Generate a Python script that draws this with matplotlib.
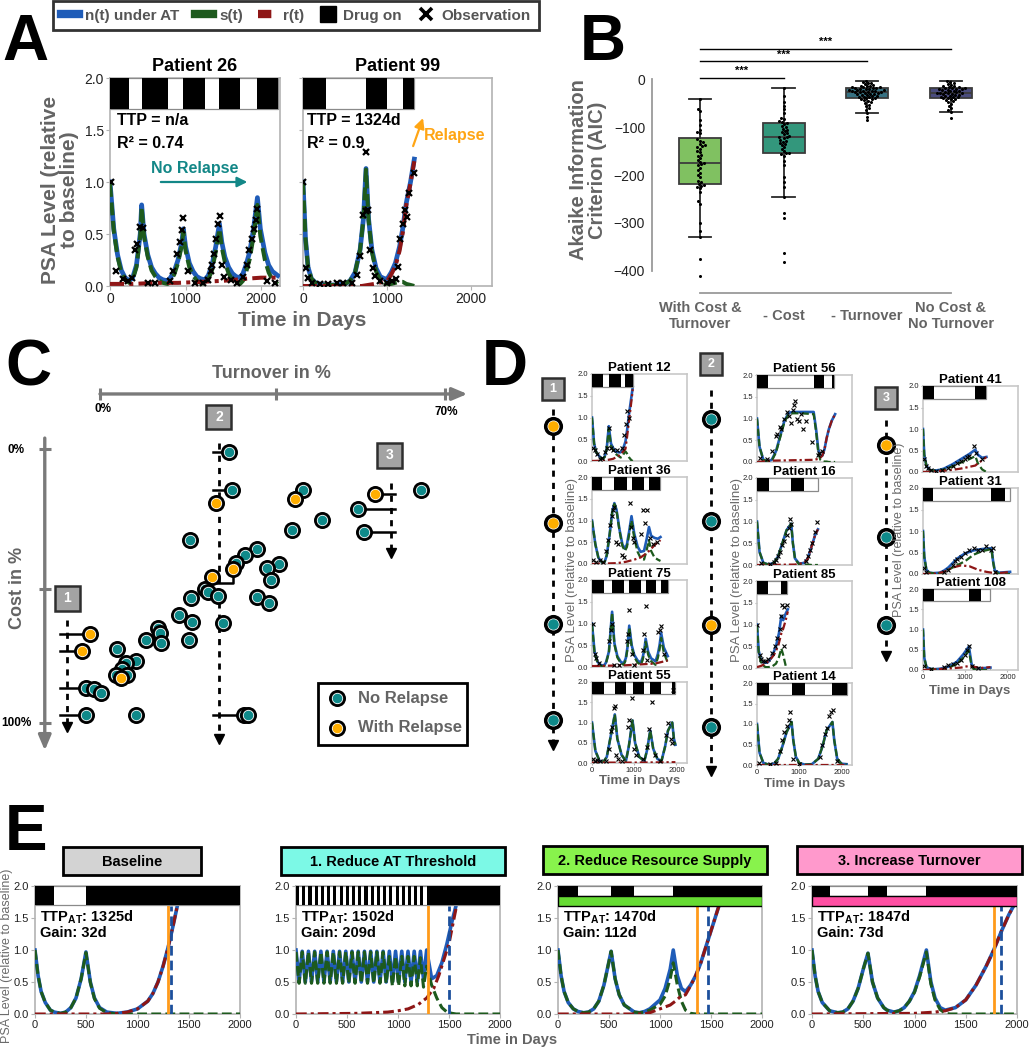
import matplotlib
matplotlib.use("Agg")
import matplotlib.pyplot as plt
from matplotlib.patches import Rectangle
from matplotlib.lines import Line2D
import pandas as pd
import seaborn as sns
import warnings
warnings.filterwarnings("ignore")

# ------------------------------------------------------------------ DATA
# Panel A
A_legend_labels = ['n(t) under AT', 's(t)', 'r(t)', 'Drug on', 'Observation']

P26_t = [0, 50, 100, 150, 200, 256, 300, 350, 400, 419, 450, 500, 550, 600, 650, 700, 763, 800, 850, 900, 950, 971,
         1000, 1050, 1100, 1150, 1200, 1254, 1300, 1350, 1400, 1448, 1480, 1520, 1570, 1620, 1670, 1722, 1760, 1800,
         1850, 1900, 1951, 1990, 2050, 2100, 2150, 2221]
P26_n = [1.0, 0.55, 0.3, 0.15, 0.08, 0.05, 0.08, 0.2, 0.5, 0.78, 0.5, 0.3, 0.18, 0.12, 0.08, 0.06, 0.05, 0.08, 0.14,
         0.25, 0.42, 0.55, 0.38, 0.22, 0.14, 0.09, 0.07, 0.06, 0.1, 0.2, 0.38, 0.6, 0.42, 0.28, 0.18, 0.12, 0.09, 0.08,
         0.12, 0.2, 0.33, 0.55, 0.85, 0.55, 0.32, 0.2, 0.14, 0.1]
P26_s = [0.98, 0.53, 0.28, 0.13, 0.06, 0.03, 0.06, 0.18, 0.48, 0.76, 0.48, 0.28, 0.15, 0.09, 0.05, 0.03, 0.02, 0.05,
         0.11, 0.22, 0.39, 0.52, 0.34, 0.18, 0.10, 0.05, 0.03, 0.02, 0.06, 0.15, 0.33, 0.55, 0.37, 0.23, 0.12, 0.06,
         0.03, 0.02, 0.05, 0.13, 0.26, 0.48, 0.78, 0.48, 0.25, 0.13, 0.06, 0.02]
P26_rt = [0, 300, 600, 900, 1200, 1500, 1800, 2000, 2221]
P26_r = [0.02, 0.02, 0.03, 0.03, 0.04, 0.05, 0.07, 0.08, 0.08]
P26_obs_t = [13, 80, 176, 243, 287, 331, 362, 397, 442, 508, 596, 795, 839, 883, 927, 949, 971, 1038, 1126, 1236,
             1302, 1333, 1355, 1377, 1404, 1435, 1457, 1479, 1510, 1598, 1686, 1766, 1810, 1845, 1885, 1912, 1934,
             1951, 2075, 2185]
P26_obs_y = [1.0, 0.14, 0.07, 0.05, 0.08, 0.35, 0.4, 0.57, 0.56, 0.03, 0.03, 0.05, 0.14, 0.31, 0.42, 0.54, 0.65,
             0.14, 0.03, 0.03, 0.06, 0.14, 0.2, 0.31, 0.45, 0.6, 0.67, 0.2, 0.09, 0.06, 0.03, 0.09, 0.2, 0.35, 0.45,
             0.55, 0.63, 0.74, 0.05, 0.03]
P26_drug = [(0, 256), (419, 763), (971, 1254), (1448, 1722), (1951, 2221)]
P26_end = 2221

P99_t = [0, 30, 60, 100, 150, 200, 270, 400, 500, 560, 620, 680, 720, 750, 780, 820, 870, 920, 970, 1004, 1050, 1100,
         1150, 1187, 1230, 1280, 1325]
P99_n = [1.0, 0.45, 0.18, 0.07, 0.03, 0.02, 0.01, 0.01, 0.02, 0.05, 0.13, 0.35, 0.65, 1.13, 0.65, 0.35, 0.17, 0.09,
         0.07, 0.07, 0.13, 0.22, 0.38, 0.55, 0.8, 1.0, 1.22]
P99_s = [1.0, 0.45, 0.18, 0.07, 0.03, 0.02, 0.01, 0.01, 0.02, 0.05, 0.13, 0.35, 0.65, 1.12, 0.64, 0.33, 0.14, 0.06,
         0.03, 0.02, 0.02, 0.03, 0.04, 0.04, 0.02, 0.01, 0.0]
P99_rt = [0, 700, 850, 950, 1004, 1050, 1100, 1150, 1187, 1230, 1280, 1325]
P99_r = [0.0, 0.0, 0.02, 0.04, 0.05, 0.11, 0.19, 0.34, 0.51, 0.78, 0.99, 1.2]
P99_obs_t = [4, 36, 63, 103, 202, 302, 401, 480, 580, 647, 679, 718, 746, 770, 750, 798, 830, 857, 917, 996, 1056,
             1107, 1127, 1155, 1194, 1214, 1234, 1266, 1325]
P99_obs_y = [1.0, 0.17, 0.08, 0.03, 0.02, 0.02, 0.03, 0.03, 0.03, 0.11, 0.29, 0.68, 0.72, 0.73, 1.29, 0.35, 0.17,
             0.1, 0.05, 0.03, 0.05, 0.07, 0.18, 0.45, 0.6, 0.73, 0.66, 0.89, 1.09]
P99_drug = [(0, 270), (750, 1004), (1187, 1325)]
P99_end = 1325

# Panel B
B_groups = ['With Cost &\nTurnover', '- Cost', '- Turnover', 'No Cost &\nNo Turnover']
B_q1 = [-218, -155, -40, -40]
B_med = [-175, -121, -26, -29]
B_q3 = [-122, -92, -18, -19]
B_wlo = [-330, -245, -70, -68]
B_whi = [-41, -18, -3, -4]
B_g1 = [-41, -62, -66, -85, -95, -105, -110, -112, -125, -128, -132, -135, -138, -140, -142, -145, -150, -152, -158,
        -160, -165, -168, -172, -175, -178, -180, -185, -190, -195, -200, -205, -212, -215, -218, -220, -222, -225,
        -228, -235, -255, -260, -300, -318, -330, -375, -410]
B_g2 = [-18, -35, -48, -55, -62, -70, -80, -84, -88, -90, -92, -94, -97, -100, -103, -105, -108, -110, -113, -115,
        -118, -120, -121, -123, -126, -128, -130, -133, -135, -138, -142, -145, -150, -153, -155, -157, -160, -170,
        -180, -205, -215, -225, -245, -280, -290, -364, -382]
B_g3 = [-3, -5, -7, -8, -10, -12, -13, -14, -15, -16, -17, -17, -18, -18, -19, -20, -20, -21, -22, -22, -23, -24, -24,
        -25, -25, -26, -26, -27, -27, -28, -29, -30, -30, -31, -32, -33, -34, -35, -36, -37, -38, -39, -40, -41, -42,
        -44, -46, -48, -50, -53, -56, -60, -64, -70, -78, -85]
B_g4 = [-4, -6, -8, -10, -12, -14, -15, -16, -17, -18, -19, -19, -20, -21, -21, -22, -23, -24, -24, -25, -26, -27,
        -28, -28, -29, -29, -30, -31, -32, -33, -34, -35, -36, -37, -38, -39, -40, -41, -42, -44, -46, -48, -51, -55,
        -60, -64, -68, -80]
B_sig_pairs = [(0, 1), (0, 2), (0, 3)]
B_sig_labels = ['***', '***', '***']

# Panel C (turnover %, cost %, relapse flag)
C_turnover = [26.1, 26.8, 23.5, 41.2, 39.5, 55.8, 65.1, 52.4, 45.1, 38.9, 53.5, 18.2, 31.8, 29.5, 27.5, 26.9, 36.4,
              33.9, 34.6, 22.7, 21.2, 22.0, 24.0, 18.4, 31.8, 34.3, 24.9, 16.0, 18.7, 18.1, 11.8, 12.2, 12.4, 9.3,
              3.4, 7.4, 5.3, 4.4, 3.2, 5.4, 4.3, -2.0, -3.7, -2.8, -1.2, 0.3, -2.8, 7.4, 29.3, 30.1]
C_cost = [1.2, 14.8, 19.6, 14.8, 18.2, 16.5, 15.0, 22.0, 25.9, 29.7, 30.4, 33.1, 36.5, 38.8, 41.5, 43.7, 41.9, 43.4,
          47.8, 46.7, 51.0, 52.2, 53.5, 54.3, 54.0, 56.2, 63.5, 60.5, 63.0, 69.7, 65.2, 67.0, 70.7, 69.6, 73.0, 77.3,
          78.0, 80.3, 82.6, 82.6, 83.7, 67.5, 73.6, 87.1, 87.5, 89.2, 97.0, 97.0, 97.0, 97.0]
C_relapse = [0, 0, 1, 0, 1, 1, 0, 0, 0, 0, 0, 0, 0, 0, 0, 1, 0, 0, 0, 1, 0, 0, 0, 0, 0, 0, 0, 0, 0, 0, 0, 0, 0, 0,
             0, 0, 0, 0, 0, 0, 1, 1, 1, 0, 0, 0, 0, 0, 0, 0]
C_axis_ticks_turnover = ['0%', '70%']
C_axis_ticks_cost = ['0%', '100%']
C_legend = ['No Relapse', 'With Relapse']

# Panel D patients
P12_t = [0, 50, 100, 200, 257, 300, 350, 398, 450, 500, 550, 620, 678, 720, 760, 793, 830, 880, 930, 965]
P12_n = [1.0, 0.4, 0.2, 0.08, 0.05, 0.1, 0.3, 0.8, 0.4, 0.3, 0.22, 0.2, 0.2, 0.25, 0.35, 0.45, 0.7, 1.1, 1.45, 1.7]
P12_s = [1.0, 0.4, 0.2, 0.08, 0.05, 0.09, 0.28, 0.75, 0.35, 0.25, 0.17, 0.12, 0.08, 0.1, 0.18, 0.22, 0.17, 0.08, 0.02, 0.0]
P12_rt = [0, 300, 500, 600, 678, 720, 793, 830, 880, 930, 965]
P12_r = [0, 0.01, 0.05, 0.1, 0.15, 0.2, 0.28, 0.55, 0.95, 1.35, 1.65]
P12_ot = [30, 80, 130, 180, 230, 300, 350, 400, 450, 500, 600, 700, 750, 800, 830, 870]
P12_oy = [0.3, 0.25, 0.15, 0.05, 0.08, 0.2, 0.3, 0.75, 0.3, 0.25, 0.25, 0.3, 0.6, 0.85, 1.15, 1.0]
P12_drug = [(0, 257), (398, 678), (793, 965)]

P36_t = [0, 80, 150, 242, 300, 350, 420, 480, 530, 580, 650, 720, 780, 827, 880, 936, 1000, 1080, 1150, 1232, 1290,
         1349, 1400, 1480, 1560, 1622]
P36_n = [1.0, 0.45, 0.15, 0.03, 0.05, 0.2, 0.7, 1.2, 1.4, 1.25, 0.8, 0.45, 0.35, 0.45, 0.75, 1.1, 0.7, 0.4, 0.28, 0.3,
         0.55, 0.85, 0.65, 0.6, 0.58, 0.62]
P36_s = [1.0, 0.45, 0.15, 0.03, 0.05, 0.2, 0.7, 1.2, 1.38, 1.23, 0.77, 0.41, 0.3, 0.39, 0.68, 1.0, 0.6, 0.28, 0.14,
         0.1, 0.3, 0.55, 0.3, 0.15, 0.1, 0.07]
P36_rt = [0, 600, 800, 1000, 1150, 1300, 1400, 1500, 1622]
P36_r = [0, 0.02, 0.05, 0.1, 0.15, 0.25, 0.35, 0.45, 0.55]
P36_ot = [30, 90, 200, 270, 330, 380, 430, 470, 500, 520, 560, 620, 700, 760, 890, 920, 960, 1000, 1150, 1200, 1250,
          1310, 1380, 1450, 1530]
P36_oy = [0.1, 0.05, 0.1, 0.05, 0.3, 0.55, 0.9, 1.1, 1.25, 1.3, 0.5, 0.45, 0.2, 0.15, 1.4, 0.85, 0.6, 0.5, 0.7, 1.25,
          0.95, 1.25, 0.6, 0.45, 0.5]
P36_drug = [(0, 242), (530, 827), (936, 1232), (1349, 1622)]

P75_t = [0, 60, 130, 200, 281, 330, 400, 476, 530, 600, 680, 749, 800, 840, 882, 940, 1000, 1080, 1155, 1200, 1240,
         1271, 1330, 1400, 1505, 1560, 1600, 1638, 1700, 1794]
P75_n = [1.0, 0.35, 0.12, 0.05, 0.03, 0.1, 0.35, 1.27, 0.55, 0.25, 0.12, 0.08, 0.2, 0.45, 0.95, 0.5, 0.28, 0.15, 0.1,
         0.22, 0.4, 0.65, 0.35, 0.2, 0.13, 0.3, 0.5, 0.78, 0.45, 0.25]
P75_s = [0.98, 0.33, 0.1, 0.03, 0.01, 0.08, 0.33, 1.25, 0.52, 0.22, 0.09, 0.05, 0.16, 0.41, 0.91, 0.46, 0.23, 0.1,
         0.05, 0.16, 0.34, 0.58, 0.28, 0.13, 0.05, 0.21, 0.4, 0.67, 0.33, 0.1]
P75_rt = [0, 800, 1500, 1794]
P75_r = [0.02, 0.04, 0.08, 0.15]
P75_ot = [20, 60, 100, 170, 400, 440, 470, 520, 650, 820, 850, 880, 940, 1000, 1200, 1230, 1270, 1300, 1560, 1620,
          1640, 1700]
P75_oy = [1.0, 0.3, 0.2, 0.1, 0.6, 0.85, 1.0, 0.05, 0.05, 0.6, 0.75, 1.3, 0.3, 0.05, 0.4, 0.75, 1.4, 0.15, 0.8, 0.85,
          0.95, 0.3]
P75_drug = [(0, 281), (476, 749), (882, 1155), (1271, 1505), (1638, 1794)]

P55_t = [0, 80, 180, 273, 350, 450, 540, 600, 700, 803, 870, 960, 1020, 1120, 1240, 1300, 1380, 1450, 1550, 1646,
         1730, 1800, 1900, 1940, 1975]
P55_n = [1.0, 0.3, 0.05, 0.03, 0.15, 0.7, 1.2, 0.6, 0.2, 0.05, 0.4, 1.05, 0.5, 0.15, 0.05, 0.3, 0.8, 0.35, 0.1, 0.05,
         0.4, 0.8, 1.0, 0.6, 0.45]
P55_rt = [0, 1000, 1975]
P55_r = [0.01, 0.01, 0.02]
P55_ot = [20, 60, 120, 180, 320, 400, 450, 480, 520, 540, 560, 620, 700, 850, 880, 940, 1000, 1050, 1200, 1300, 1350,
          1420, 1500, 1600, 1760, 1800, 1860, 1900, 1910]
P55_oy = [0.1, 0.05, 0.08, 0.04, 0.05, 0.35, 0.8, 0.9, 1.35, 1.4, 0.2, 0.1, 0.05, 0.9, 1.05, 1.6, 0.35, 0.2, 0.1, 0.4,
          0.85, 1.5, 0.2, 0.05, 0.7, 1.0, 0.6, 0.5, 1.8]
P55_drug = [(0, 273), (540, 803), (960, 1240), (1380, 1646), (1900, 1975)]

P56_t = [0, 60, 150, 250, 350, 450, 550, 650, 750, 850, 1000, 1200, 1342, 1400, 1450, 1500, 1550, 1600, 1650, 1700,
         1771, 1850]
P56_n = [1.0, 0.35, 0.05, 0.02, 0.05, 0.25, 0.6, 0.95, 1.13, 1.15, 1.15, 1.15, 1.15, 0.75, 0.3, 0.12, 0.15, 0.3, 0.55,
         0.75, 0.95, 1.1]
P56_s = [1.0, 0.35, 0.05, 0.02, 0.03, 0.22, 0.57, 0.92, 1.1, 1.12, 1.12, 1.11, 1.1, 0.7, 0.23, 0.05, 0.02, 0.01,
         0.01, 0.0, 0.0, 0.0]
P56_rt = [0, 300, 1342, 1450, 1500, 1550, 1600, 1650, 1700, 1771, 1850]
P56_r = [0, 0.03, 0.05, 0.07, 0.1, 0.15, 0.3, 0.55, 0.75, 0.95, 1.1]
P56_ot = [70, 230, 350, 450, 470, 550, 580, 650, 700, 750, 800, 850, 880, 900, 950, 1000, 1050, 1100, 1150, 1300,
          1450, 1470, 1550]
P56_oy = [0.1, 0.08, 0.25, 0.6, 0.65, 0.8, 0.75, 1.0, 1.15, 1.05, 0.9, 1.2, 1.3, 1.4, 1.0, 0.95, 1.1, 0.75, 0.95,
          0.45, 0.15, 0.2, 0.25]
P56_drug = [(0, 250), (1342, 1592), (1771, 1833)]

P16_t = [0, 60, 150, 273, 400, 500, 600, 700, 811, 850, 900, 1000, 1123, 1200, 1300, 1380, 1443]
P16_n = [1.0, 0.3, 0.05, 0.01, 0.05, 0.2, 0.5, 0.8, 0.95, 0.5, 0.15, 0.03, 0.05, 0.15, 0.45, 0.7, 0.82]
P16_s = [1.0, 0.3, 0.05, 0.01, 0.05, 0.2, 0.5, 0.8, 0.95, 0.5, 0.14, 0.01, 0.01, 0.01, 0.0, 0.0, 0.0]
P16_rt = [0, 900, 1000, 1123, 1200, 1300, 1380, 1443]
P16_r = [0, 0.01, 0.03, 0.05, 0.14, 0.45, 0.7, 0.82]
P16_ot = [100, 300, 400, 450, 500, 550, 600, 650, 700, 750, 790, 800, 1150, 1200, 1250, 1300, 1380, 1430]
P16_oy = [0.05, 0.03, 0.08, 0.12, 0.2, 0.3, 0.45, 0.55, 0.7, 0.85, 1.05, 0.95, 0.1, 0.2, 0.35, 0.5, 0.75, 1.0]
P16_drug = [(0, 273), (811, 1123)]
P16_end = 1443

P85_t = [0, 40, 100, 200, 257, 350, 450, 520, 577, 620, 680, 730]
P85_n = [1.0, 0.4, 0.15, 0.12, 0.13, 0.25, 0.5, 0.8, 1.2, 1.1, 1.25, 1.35]
P85_s = [0.98, 0.35, 0.1, 0.02, 0.02, 0.03, 0.1, 0.25, 0.45, 0.3, 0.05, 0.0]
P85_rt = [0, 100, 200, 300, 400, 500, 577, 620, 680, 730]
P85_r = [0.02, 0.05, 0.1, 0.18, 0.3, 0.5, 0.8, 0.9, 1.1, 1.3]
P85_ot = [10, 60, 100, 150, 200, 250, 350, 420, 480, 540, 570, 600, 630, 650, 700]
P85_oy = [1.0, 0.3, 0.2, 0.15, 0.15, 0.2, 0.35, 0.5, 0.7, 0.9, 1.2, 1.45, 1.4, 0.5, 1.45]
P85_drug = [(0, 257), (577, 717)]

P14_t = [0, 60, 150, 273, 400, 500, 600, 700, 819, 860, 920, 1000, 1131, 1300, 1450, 1550, 1650, 1786, 1830, 1900,
         2000, 2122]
P14_n = [1.0, 0.3, 0.05, 0.01, 0.03, 0.15, 0.45, 0.8, 1.05, 0.6, 0.2, 0.05, 0.01, 0.02, 0.15, 0.45, 0.85, 1.05, 0.6,
         0.15, 0.03, 0.02]
P14_rt = [0, 2122]
P14_r = [0.01, 0.01]
P14_ot = [50, 300, 450, 550, 600, 650, 700, 750, 790, 850, 1000, 1500, 1550, 1600, 1650, 1700, 1750, 1800, 1900]
P14_oy = [0.05, 0.02, 0.05, 0.35, 0.6, 0.8, 0.95, 1.1, 1.3, 0.15, 0.02, 0.2, 0.5, 0.75, 0.9, 1.2, 1.3, 1.35, 0.1]
P14_drug = [(0, 273), (819, 1131), (1786, 2122)]

P41_t = [0, 30, 80, 150, 264, 400, 500, 700, 900, 1100, 1239, 1300, 1400, 1502]
P41_n = [1.0, 0.4, 0.15, 0.05, 0.03, 0.05, 0.08, 0.18, 0.3, 0.42, 0.52, 0.4, 0.33, 0.35]
P41_s = [1.0, 0.4, 0.15, 0.05, 0.03, 0.03, 0.06, 0.13, 0.22, 0.3, 0.37, 0.2, 0.06, 0.0]
P41_rt = [0, 400, 700, 900, 1100, 1239, 1300, 1400, 1502]
P41_r = [0, 0.02, 0.05, 0.08, 0.12, 0.15, 0.2, 0.27, 0.35]
P41_ot = [20, 60, 120, 200, 300, 450, 600, 700, 800, 900, 1000, 1050, 1100, 1200, 1260, 1400]
P41_oy = [0.3, 0.15, 0.1, 0.05, 0.03, 0.05, 0.1, 0.15, 0.2, 0.25, 0.3, 0.35, 0.38, 0.6, 0.45, 0.3]
P41_drug = [(0, 264), (1239, 1502)]

P31_t = [0, 30, 80, 150, 240, 400, 500, 600, 700, 800, 900, 1000, 1200, 1400, 1622, 1660, 1700, 1800, 2062]
P31_n = [1.0, 0.4, 0.1, 0.03, 0.02, 0.03, 0.08, 0.15, 0.25, 0.35, 0.42, 0.48, 0.55, 0.58, 0.6, 0.3, 0.08, 0.03, 0.05]
P31_s = [1.0, 0.4, 0.1, 0.03, 0.02, 0.02, 0.04, 0.1, 0.15, 0.2, 0.25, 0.3, 0.45, 0.53, 0.58, 0.28, 0.06, 0.0, 0.0]
P31_rt = [0, 300, 500, 700, 900, 1100, 1300, 1500, 1700, 1900, 2062]
P31_r = [0, 0.01, 0.05, 0.15, 0.2, 0.18, 0.1, 0.05, 0.02, 0.03, 0.05]
P31_ot = [20, 60, 500, 600, 700, 750, 800, 900, 1000, 1100, 1200, 1300, 1400, 1500, 1600, 1650, 1700]
P31_oy = [0.15, 0.05, 0.05, 0.1, 0.2, 0.3, 0.35, 0.4, 0.5, 0.55, 0.6, 0.55, 0.55, 0.65, 0.55, 0.6, 0.05]
P31_drug = [(0, 240), (1622, 1941)]
P31_end = 2062

P108_t = [0, 30, 80, 150, 264, 400, 600, 800, 950, 1087, 1150, 1200, 1366, 1598]
P108_n = [1.0, 0.3, 0.08, 0.03, 0.02, 0.03, 0.08, 0.2, 0.38, 0.58, 0.15, 0.05, 0.04, 0.06]
P108_s = [1.0, 0.3, 0.08, 0.03, 0.02, 0.01, 0.05, 0.15, 0.3, 0.48, 0.1, 0.02, 0.0, 0.0]
P108_rt = [0, 500, 900, 1087, 1366, 1598]
P108_r = [0, 0.03, 0.06, 0.1, 0.05, 0.07]
P108_ot = [20, 200, 500, 600, 700, 800, 900, 1000, 1050, 1080, 1150, 1300]
P108_oy = [0.1, 0.03, 0.08, 0.12, 0.15, 0.18, 0.25, 0.38, 0.5, 0.6, 0.1, 0.05]
P108_drug = [(0, 264), (1087, 1366)]
P108_end = 1598

D_relapse_col1 = [1, 1, 0, 0]
D_relapse_col2 = [0, 0, 1, 0]
D_relapse_col3 = [1, 0, 0]

# Panel E
E_titles = ['Baseline', '1. Reduce AT Threshold', '2. Reduce Resource Supply', '3. Increase Turnover']
E_ttp_at = [1325, 1502, 1470, 1847]
E_gain = [32, 209, 112, 73]
E_ttp_std = [1293, 1293, 1358, 1774]

E1_t = [0, 30, 60, 100, 150, 188, 250, 300, 350, 400, 450, 497, 540, 580, 630, 700, 800, 900, 1000, 1100, 1150, 1200,
        1250, 1300, 1350, 1390]
E1_n = [1.0, 0.6, 0.35, 0.18, 0.06, 0.03, 0.01, 0.03, 0.1, 0.25, 0.55, 0.97, 0.5, 0.25, 0.1, 0.03, 0.01, 0.03, 0.08,
        0.2, 0.32, 0.5, 0.75, 1.05, 1.4, 1.7]
E1_st = [0, 30, 60, 100, 150, 188, 250, 300, 350, 400, 450, 497, 540, 580, 630, 700, 800, 2000]
E1_s = [1.0, 0.6, 0.35, 0.18, 0.06, 0.03, 0.01, 0.03, 0.1, 0.25, 0.55, 0.96, 0.49, 0.24, 0.09, 0.02, 0.0, 0.0]
E1_rt = [0, 700, 800, 900, 1000, 1100, 1150, 1200, 1250, 1300, 1350, 1390]
E1_r = [0, 0.0, 0.01, 0.03, 0.08, 0.2, 0.32, 0.5, 0.75, 1.05, 1.4, 1.7]
E1_drug = [(0, 188), (497, 2000)]

E2_t = [0, 30, 61, 91, 122, 152, 183, 213, 244, 274, 305, 335, 366, 396, 427, 457, 488, 518, 549, 579, 610, 640, 671,
        701, 732, 762, 793, 823, 854, 884, 915, 945, 976, 1006, 1037, 1067, 1098, 1128, 1159, 1189, 1220, 1250, 1281,
        1330, 1380, 1430, 1480, 1530, 1570]
E2_n = [1.0, 0.5, 0.98, 0.5, 0.98, 0.5, 0.98, 0.5, 0.98, 0.5, 0.98, 0.5, 0.98, 0.5, 0.98, 0.5, 0.98, 0.5, 0.98, 0.5,
        0.98, 0.5, 0.98, 0.5, 0.98, 0.5, 0.98, 0.5, 0.98, 0.5, 0.98, 0.5, 0.98, 0.5, 0.98, 0.5, 0.98, 0.5, 0.98, 0.5,
        0.98, 0.55, 1.0, 0.55, 0.6, 0.8, 1.1, 1.45, 1.7]
E2_st = [0, 30, 61, 91, 122, 152, 183, 213, 244, 274, 305, 335, 366, 396, 427, 457, 488, 518, 549, 579, 610, 640, 671,
         701, 732, 762, 793, 823, 854, 884, 915, 945, 976, 1006, 1037, 1067, 1098, 1128, 1159, 1189, 1220, 1250, 1281,
         1330, 1380, 1430, 1480, 1530, 1570, 2000]
E2_s = [0.97, 0.48, 0.97, 0.48, 0.97, 0.48, 0.97, 0.48, 0.97, 0.48, 0.97, 0.48, 0.97, 0.48, 0.97, 0.48, 0.97, 0.48,
        0.97, 0.48, 0.97, 0.48, 0.97, 0.48, 0.97, 0.48, 0.97, 0.48, 0.97, 0.48, 0.9, 0.44, 0.9, 0.44, 0.9, 0.44, 0.9,
        0.44, 0.9, 0.44, 0.88, 0.42, 0.75, 0.45, 0.25, 0.1, 0.03, 0.01, 0.0, 0.0]
E2_rt = [0, 600, 900, 1000, 1100, 1200, 1281, 1350, 1400, 1450, 1500, 1550, 1575]
E2_r = [0, 0.01, 0.03, 0.05, 0.08, 0.15, 0.25, 0.4, 0.6, 0.85, 1.1, 1.5, 1.7]
E2_drug = [(0, 30), (61, 91), (122, 152), (183, 213), (244, 274), (305, 335), (366, 396), (427, 457), (488, 518),
           (549, 579), (610, 640), (671, 701), (732, 762), (793, 823), (854, 884), (915, 945), (976, 1006),
           (1037, 1067), (1098, 1128), (1159, 1189), (1220, 1250), (1281, 2000)]

E3_t = [0, 30, 60, 100, 150, 195, 250, 300, 350, 400, 450, 521, 560, 600, 650, 749, 800, 850, 900, 1000, 1050, 1100,
        1130, 1170, 1210, 1250, 1300, 1350, 1400, 1450, 1500, 1550, 1580]
E3_n = [1.0, 0.6, 0.35, 0.18, 0.08, 0.04, 0.02, 0.03, 0.08, 0.2, 0.45, 0.98, 0.55, 0.3, 0.14, 0.03, 0.02, 0.04, 0.08,
        0.22, 0.4, 0.7, 1.0, 0.6, 0.4, 0.35, 0.45, 0.6, 0.8, 1.05, 1.3, 1.55, 1.7]
E3_st = [0, 30, 60, 100, 150, 195, 250, 300, 350, 400, 450, 521, 560, 600, 650, 749, 800, 850, 900, 1000, 1050, 1100,
         1130, 1170, 1210, 1250, 1300, 1350, 2000]
E3_s = [1.0, 0.6, 0.35, 0.18, 0.08, 0.04, 0.02, 0.03, 0.08, 0.2, 0.45, 0.98, 0.55, 0.3, 0.14, 0.03, 0.02, 0.03, 0.06,
        0.15, 0.28, 0.55, 0.8, 0.45, 0.2, 0.06, 0.01, 0.0, 0.0]
E3_rt = [0, 850, 900, 950, 1000, 1100, 1150, 1200, 1250, 1300, 1350, 1400, 1450, 1500, 1550, 1580]
E3_r = [0, 0.0, 0.02, 0.05, 0.08, 0.14, 0.2, 0.27, 0.3, 0.44, 0.6, 0.8, 1.05, 1.3, 1.55, 1.7]
E3_drug = [(0, 195), (521, 749), (1130, 2000)]

E4_t = [0, 30, 60, 100, 172, 250, 300, 350, 400, 450, 500, 546, 590, 640, 700, 732, 800, 850, 900, 950, 1000, 1050,
        1116, 1160, 1200, 1250, 1300, 1400, 1500, 1600, 1700, 1773, 1850, 1920, 1970]
E4_n = [1.0, 0.6, 0.35, 0.18, 0.05, 0.02, 0.03, 0.08, 0.2, 0.4, 0.7, 0.95, 0.5, 0.25, 0.1, 0.06, 0.03, 0.05, 0.1, 0.2,
        0.35, 0.6, 1.0, 0.5, 0.25, 0.1, 0.06, 0.1, 0.22, 0.45, 0.75, 1.0, 1.3, 1.55, 1.7]
E4_st = [0, 30, 60, 100, 172, 250, 300, 350, 400, 450, 500, 546, 590, 640, 700, 732, 800, 850, 900, 950, 1000, 1050,
         1116, 1160, 1200, 1250, 1300, 1350, 2000]
E4_s = [1.0, 0.6, 0.35, 0.18, 0.05, 0.02, 0.03, 0.08, 0.2, 0.4, 0.7, 0.95, 0.5, 0.25, 0.1, 0.06, 0.03, 0.05, 0.1, 0.2,
        0.34, 0.58, 0.97, 0.47, 0.22, 0.07, 0.01, 0.0, 0.0]
E4_rt = [0, 1000, 1200, 1300, 1400, 1500, 1600, 1700, 1773, 1850, 1920, 1970]
E4_r = [0, 0.01, 0.03, 0.05, 0.1, 0.22, 0.45, 0.75, 1.0, 1.3, 1.55, 1.7]
E4_drug = [(0, 172), (546, 732), (1116, 2000)]

# ------------------------------------------------------------------ STYLE
W, H = 1029, 1050
plt.rcParams['font.family'] = ['Liberation Sans', 'DejaVu Sans']
plt.rcParams['mathtext.fontset'] = 'custom'
plt.rcParams['mathtext.rm'] = 'Liberation Sans'
plt.rcParams['mathtext.bf'] = 'Liberation Sans:bold'

BLUE = '#1f5cb8'
GREEN = '#1d5a1d'
RED = '#8e1616'
GREYTXT = '#646464'
TEAL = '#0f8a8a'
ORANGE = '#ffae00'
SPINE = '#b3b3b3'

fig = plt.figure(figsize=(W / 100, H / 100), dpi=100)


def pax(x0, y0, x1, y1):
    return fig.add_axes([x0 / W, 1 - y1 / H, (x1 - x0) / W, (y1 - y0) / H])


def ftext(x, y, s, **kw):
    return fig.text(x / W, 1 - y / H, s, **kw)


def draw_curves(ax, tn, n, ts, s, tr, r, lw):
    ax.plot(tn, n, color=BLUE, lw=lw, zorder=3, solid_joinstyle='round')
    ax.plot(ts, s, color=GREEN, lw=lw * 0.85, dashes=(3.2, 1.4), zorder=4)
    ax.plot(tr, r, color=RED, lw=lw * 0.85, dashes=(3.5, 1.3, 1.0, 1.3), zorder=5)


def drug_bar(ax, on, end, y0=1.7, y1=2.0, frame='#8a8a8a'):
    ax.add_patch(Rectangle((0, y0), end, y1 - y0, fc='white', ec=frame, lw=0.9, zorder=8))
    for a, b in on:
        ax.add_patch(Rectangle((a, y0), b - a, y1 - y0, fc='black', ec='none', zorder=9))


def style_ts(ax, xmax, fs, length=3):
    ax.set_xlim(0, xmax)
    ax.set_ylim(0, 2)
    ax.set_yticks([0, 0.5, 1.0, 1.5, 2.0])
    ax.set_yticklabels(['0.0', '0.5', '1.0', '1.5', '2.0'])
    for sp in ax.spines.values():
        sp.set_color(SPINE)
        sp.set_linewidth(1.2)
    ax.tick_params(labelsize=fs, length=length, color=SPINE, pad=1.5, labelcolor='#222')


# ------------------------------------------------------------------ PANEL A
axA1 = pax(110, 78, 280, 286)
axA2 = pax(303, 78, 492, 286)
for ax, tn, n, s, tr, r, ot, oy, drug, end, title in [
        (axA1, P26_t, P26_n, P26_s, P26_rt, P26_r, P26_obs_t, P26_obs_y, P26_drug, P26_end, 'Patient 26'),
        (axA2, P99_t, P99_n, P99_s, P99_rt, P99_r, P99_obs_t, P99_obs_y, P99_drug, P99_end, 'Patient 99')]:
    style_ts(ax, 2250, 10)
    ax.set_xticks([0, 1000, 2000])
    draw_curves(ax, tn, n, tn, s, tr, r, 3.4)
    ax.plot(ot, oy, ls='none', marker='x', color='black', ms=4.5, mew=1.6, zorder=10)
    drug_bar(ax, drug, end)
    ax.set_title(title, fontsize=13, fontweight='bold', pad=5)
axA2.set_yticklabels([])

axA1.text(93, 1.59, 'TTP = n/a', fontsize=11.5, fontweight='bold', va='center', zorder=12)
axA1.text(93, 1.37, 'R² = 0.74', fontsize=11.5, fontweight='bold', va='center', zorder=12)
axA2.text(48, 1.59, 'TTP = 1324d', fontsize=11.5, fontweight='bold', va='center', zorder=12)
axA2.text(48, 1.37, 'R² = 0.9', fontsize=11.5, fontweight='bold', va='center', zorder=12)
axA1.text(1119, 1.13, 'No Relapse', fontsize=11.5, fontweight='bold', color='#138787', ha='center', va='center')
axA1.annotate('', xy=(1854, 1.0), xytext=(636, 1.0),
              arrowprops=dict(arrowstyle='-|>,head_length=0.6,head_width=0.3', color='#138787', lw=1.6))
axA2.text(1440, 1.45, 'Relapse', fontsize=11.5, fontweight='bold', color='#ffa514', ha='left', va='center')
axA2.annotate('', xy=(1440, 1.64), xytext=(1300, 1.32),
              arrowprops=dict(arrowstyle='-|>,head_length=0.6,head_width=0.3', color='#ffa514', lw=1.6),
              annotation_clip=False)

ftext(60, 190, 'PSA Level (relative\nto baseline)', fontsize=15, fontweight='bold', color=GREYTXT,
      rotation=90, ha='center', va='center', linespacing=1.0)
ftext(302, 320, 'Time in Days', fontsize=15, fontweight='bold', color=GREYTXT, ha='center', va='center')

handles = [Line2D([0], [0], color=BLUE, lw=6),
           Line2D([0], [0], color=GREEN, lw=6),
           Line2D([0], [0], color=RED, lw=6, dashes=(1.6, 0.7)),
           Line2D([0], [0], color='black', marker='s', ms=11, ls='none'),
           Line2D([0], [0], color='black', marker='x', ms=9, mew=2.6, ls='none')]
leg = fig.legend(handles, A_legend_labels, loc='upper left', bbox_to_anchor=(53 / W, 1 - 1 / H), ncol=5,
                 prop={'weight': 'bold', 'size': 11}, labelcolor='#555555', frameon=True, fancybox=False,
                 edgecolor='black', handlelength=1.2, handletextpad=0.4, columnspacing=1.0, borderpad=0.5,
                 borderaxespad=0)
leg.get_frame().set_linewidth(2)

# ------------------------------------------------------------------ PANEL B
axB = pax(666, 30, 990, 279)
pal = [sns.desaturate(c, 0.75) for c in sns.color_palette('viridis', 4)[::-1]]
stats = [dict(med=B_med[i], q1=B_q1[i], q3=B_q3[i], whislo=B_wlo[i], whishi=B_whi[i], fliers=[]) for i in range(4)]
bp = axB.bxp(stats, positions=range(4), widths=0.5, patch_artist=True, showfliers=False, capwidths=0.27,
             boxprops=dict(edgecolor='#3c3c3c', lw=1.3), medianprops=dict(color='#3c3c3c', lw=1.3),
             whiskerprops=dict(color='#2a2a2a', lw=1.3), capprops=dict(color='#2a2a2a', lw=1.3))
for patch, c in zip(bp['boxes'], pal):
    patch.set_facecolor(c)
vals = B_g1 + B_g2 + B_g3 + B_g4
cats = ([B_groups[0]] * len(B_g1) + [B_groups[1]] * len(B_g2) + [B_groups[2]] * len(B_g3)
        + [B_groups[3]] * len(B_g4))
dfB = pd.DataFrame({'g': cats, 'v': vals})
sns.swarmplot(data=dfB, x='g', y='v', order=B_groups, color='black', size=2.2, ax=axB, zorder=6)
axB.set_xlim(-0.407, 3.469)
axB.set_ylim(-417.3, 103)
axB.set_xlabel('')
axB.set_ylabel('')
axB.set_yticks([-400, -300, -200, -100, 0])
axB.set_xticks(range(4))
axB.set_xticklabels([])
for i, lab in enumerate(B_groups):
    axB.text(i, -494, lab, fontsize=10.5, fontweight='bold', color=GREYTXT, ha='center', va='center',
             linespacing=1.15, clip_on=False)
axB.tick_params(axis='y', labelsize=10, length=0, pad=5, labelcolor='#222')
axB.tick_params(axis='x', length=0)
for side in ['top', 'right']:
    axB.spines[side].set_visible(False)
for side in ['left', 'bottom']:
    axB.spines[side].set_position(('outward', 10))
    axB.spines[side].set_color('#9a9a9a')
    axB.spines[side].set_linewidth(1.3)
axB.spines['left'].set_bounds(-400, 0)
axB.spines['bottom'].set_bounds(0, 3)
axB.patch.set_alpha(0)
sig_y = [3.3, 37.6, 63.3]
for (a, b), lab, y in zip(B_sig_pairs, B_sig_labels, sig_y):
    axB.plot([a, b], [y, y], color='black', lw=1.0, clip_on=False)
    axB.text((a + b) / 2, y + 4, lab, ha='center', va='bottom', fontsize=8, fontweight='bold')
ftext(588, 170, 'Akaike Information\nCriterion (AIC)', fontsize=14.5, fontweight='bold', color=GREYTXT,
      rotation=90, ha='center', va='center', linespacing=1.0)

# ------------------------------------------------------------------ PANEL C
axC = pax(0, 340, 490, 760)
axC.set_xlim(-20.28, 79.1)
axC.set_ylim(113.5, -39.8)
axC.axis('off')
AXG = '#7a7a7a'
axC.annotate('', xy=(74.5, -20.1), xytext=(0, -20.1),
             arrowprops=dict(arrowstyle='-|>,head_length=0.9,head_width=0.38', color=AXG, lw=2.4,
                             shrinkA=0, shrinkB=0))
axC.plot([0, 35.7, 70], [-20.1] * 3, ls='none', marker='|', ms=8, mew=2.2, color=AXG)
axC.annotate('', xy=(-11.2, 110), xytext=(-11.2, -4),
             arrowprops=dict(arrowstyle='-|>,head_length=0.9,head_width=0.38', color=AXG, lw=2.4,
                             shrinkA=0, shrinkB=0))
axC.plot([-11.2] * 3, [0, 51, 100], ls='none', marker='_', ms=8, mew=2.2, color=AXG)
axC.text(0.7, -14.6, C_axis_ticks_turnover[0], fontsize=8.5, fontweight='bold', ha='center', va='center')
axC.text(70.2, -13.5, C_axis_ticks_turnover[1], fontsize=8.5, fontweight='bold', ha='center', va='center')
axC.text(-17.1, 0.4, C_axis_ticks_cost[0], fontsize=8.5, fontweight='bold', ha='center', va='center')
axC.text(-17.0, 99.9, C_axis_ticks_cost[1], fontsize=8.5, fontweight='bold', ha='center', va='center')
axC.text(34.8, -27.7, 'Turnover in %', fontsize=13, fontweight='bold', color=GREYTXT, ha='center', va='center')
axC.text(-16.7, 50.7, 'Cost in %', fontsize=13, fontweight='bold', color=GREYTXT, ha='center', va='center',
         rotation=90)


def numbox(ax, x, y, w, h, label, fs):
    ax.add_patch(Rectangle((x - w / 2, y - h / 2), w, h, fc='#a3a3a3', ec='#2e2e2e', lw=1.8, zorder=7))
    ax.text(x, y, label, color='white', fontsize=fs, fontweight='bold', ha='center', va='center', zorder=8)


numbox(axC, -6.6, 54.4, 5.07, -9.1, '1', 10)
numbox(axC, 24.1, -11.7, 5.07, -9.1, '2', 10)
numbox(axC, 58.8, 2.2, 5.07, -9.1, '3', 10)


def dashed_arrow(ax, x, y0, y1, head_ms=7):
    ax.plot([x, x], [y0, y1], color='black', lw=2.0, dashes=(2.2, 2.2), zorder=3)
    ax.plot([x], [y1], marker='v', color='black', ms=head_ms, zorder=3)


dashed_arrow(axC, -6.6, 62.4, 101.5)
dashed_arrow(axC, 24.1, -2.2, 106.0)
dashed_arrow(axC, 59.0, 12.4, 38.0)
for i in [41, 42, 43, 46]:
    axC.plot([-8.1, C_turnover[i]], [C_cost[i], C_cost[i]], color='black', lw=1.8, zorder=2)
for i in [0, 1, 48]:
    axC.plot([22.9, C_turnover[i]], [C_cost[i], C_cost[i]], color='black', lw=1.8, zorder=2)
for i in [5, 7, 10]:
    axC.plot([C_turnover[i], 59.8], [C_cost[i], C_cost[i]], color='black', lw=1.8, zorder=2)
axC.plot([22.7, 27.0, 27.0], [48.9, 48.9, 45.3], color='black', lw=1.8, zorder=2)


def ringed(ax, x, y, fill, s_out, s_white, s_in, z):
    ax.scatter([x], [y], s=s_out, color='black', lw=0, zorder=z)
    ax.scatter([x], [y], s=s_white, color='white', lw=0, zorder=z + 0.1)
    ax.scatter([x], [y], s=s_in, color=fill, lw=0, zorder=z + 0.2)


for k, (tx, cy, rel) in enumerate(zip(C_turnover, C_cost, C_relapse)):
    ringed(axC, tx, cy, ORANGE if rel else TEAL, 150, 66, 48, 10 + k * 0.3)

axC.add_patch(Rectangle((44.2, 85.4), 30.2, 22.6, fc='white', ec='black', lw=2, zorder=30))
ringed(axC, 48.1, 90.9, TEAL, 150, 66, 48, 31)
ringed(axC, 48.1, 101.8, ORANGE, 150, 66, 48, 31)
axC.text(52.3, 90.9, C_legend[0], fontsize=12, fontweight='bold', color=GREYTXT, va='center', zorder=32)
axC.text(52.3, 101.8, C_legend[1], fontsize=12, fontweight='bold', color=GREYTXT, va='center', zorder=32)

# ------------------------------------------------------------------ PANEL D
d_specs = [
    ((592, 374, 687, 461), 'Patient 12', P12_t, P12_n, P12_t, P12_s, P12_rt, P12_r, P12_ot, P12_oy, P12_drug, 965, False),
    ((592, 477, 687, 564), 'Patient 36', P36_t, P36_n, P36_t, P36_s, P36_rt, P36_r, P36_ot, P36_oy, P36_drug, 1622, False),
    ((592, 580, 687, 667), 'Patient 75', P75_t, P75_n, P75_t, P75_s, P75_rt, P75_r, P75_ot, P75_oy, P75_drug, 1794, False),
    ((592, 682, 687, 763), 'Patient 55', P55_t, P55_n, P55_t, P55_n, P55_rt, P55_r, P55_ot, P55_oy, P55_drug, 1975, True),
    ((757, 375, 852, 462), 'Patient 56', P56_t, P56_n, P56_t, P56_s, P56_rt, P56_r, P56_ot, P56_oy, P56_drug, 1833, False),
    ((757, 478, 852, 565), 'Patient 16', P16_t, P16_n, P16_t, P16_s, P16_rt, P16_r, P16_ot, P16_oy, P16_drug, P16_end, False),
    ((757, 581, 852, 668), 'Patient 85', P85_t, P85_n, P85_t, P85_s, P85_rt, P85_r, P85_ot, P85_oy, P85_drug, 717, False),
    ((757, 683, 852, 765), 'Patient 14', P14_t, P14_n, P14_t, P14_n, P14_rt, P14_r, P14_ot, P14_oy, P14_drug, 2122, True),
    ((923, 386, 1018, 472), 'Patient 41', P41_t, P41_n, P41_t, P41_s, P41_rt, P41_r, P41_ot, P41_oy, P41_drug, 1502, False),
    ((923, 488, 1018, 574), 'Patient 31', P31_t, P31_n, P31_t, P31_s, P31_rt, P31_r, P31_ot, P31_oy, P31_drug, P31_end, False),
    ((923, 589, 1018, 670), 'Patient 108', P108_t, P108_n, P108_t, P108_s, P108_rt, P108_r, P108_ot, P108_oy, P108_drug, P108_end, True),
]
for box, title, tn, n, ts, s, tr, r, ot, oy, drug, end, showx in d_specs:
    ax = pax(*box)
    style_ts(ax, 2250, 5.5, length=1.5)
    ax.set_xticks([0, 1000, 2000])
    if not showx:
        ax.set_xticklabels([])
        ax.tick_params(axis='x', length=0)
    draw_curves(ax, tn, n, ts, s, tr, r, 1.9)
    ax.plot(ot, oy, ls='none', marker='x', color='black', ms=3.2, mew=0.8, zorder=10)
    drug_bar(ax, drug, end)
    ax.set_title(title, fontsize=9.5, fontweight='bold', pad=1.5)
    for sp in ax.spines.values():
        sp.set_color('#c8c8c8')

for x, y, fs in [(572, 570, 9.5), (737, 570, 9.5), (899, 530, 9)]:
    ftext(x, y, 'PSA Level (relative to baseline)', fontsize=fs, color='#6a6a6a', rotation=90,
          ha='center', va='center')
for x, y in [(640, 781), (805, 784), (970, 691)]:
    ftext(x, y, 'Time in Days', fontsize=9.5, fontweight='bold', color=GREYTXT, ha='center', va='center')

# ------------------------------------------------------------------ PANEL E
e_boxes = [(35, 886, 240, 1014), (296, 886, 500, 1014), (558, 886, 762, 1014), (812, 886, 1017, 1014)]
e_title_box = [(63, 847, 201, 875), (281, 847, 505, 875), (543, 846, 767, 874), (797, 846, 1022, 874)]
e_title_col = ['#d3d3d3', '#7cf9e6', '#88f34c', '#ff99cc']
e_strip_col = [None, None, '#66db33', '#ff4fa3']
e_data = [(E1_t, E1_n, E1_st, E1_s, E1_rt, E1_r, E1_drug),
          (E2_t, E2_n, E2_st, E2_s, E2_rt, E2_r, E2_drug),
          (E3_t, E3_n, E3_st, E3_s, E3_rt, E3_r, E3_drug),
          (E4_t, E4_n, E4_st, E4_s, E4_rt, E4_r, E4_drug)]
for i in range(4):
    ax = pax(*e_boxes[i])
    style_ts(ax, 2000, 8)
    ax.set_xticks([0, 500, 1000, 1500, 2000])
    tn, n, ts, s, tr, r, drug = e_data[i]
    draw_curves(ax, tn, n, ts, s, tr, r, 2.6)
    if e_strip_col[i] is None:
        drug_bar(ax, drug, 2000, 1.7, 2.0)
    else:
        drug_bar(ax, drug, 2000, 1.84, 2.0)
        ax.add_patch(Rectangle((0, 1.69), 2000, 0.15, fc=e_strip_col[i], ec='black', lw=1.0, zorder=9))
    ax.plot([E_ttp_std[i]] * 2, [0, 1.69], color='#ff9a1a', lw=2.0, zorder=6)
    ax.plot([E_ttp_at[i]] * 2, [0, 1.69], color='#1c4f9c', lw=2.0, dashes=(3.5, 1.8), zorder=7)
    ax.text(45, 1.51, r'TTP$_{\mathbf{AT}}$: %dd' % E_ttp_at[i], fontsize=10.5, fontweight='bold',
            va='center', zorder=12)
    ax.text(45, 1.27, 'Gain: %dd' % E_gain[i], fontsize=10.5, fontweight='bold', va='center', zorder=12)

ftext(7, 956, 'PSA Level (relative to baseline)', fontsize=9, color='#6a6a6a', rotation=90, ha='center',
      va='center')
ftext(512, 1040, 'Time in Days', fontsize=10.5, fontweight='bold', color=GREYTXT, ha='center', va='center')

# ------------------------------------------------------------------ OVERLAY (labels, D timelines, E titles)
ov = fig.add_axes([0, 0, 1, 1])
ov.set_xlim(0, W)
ov.set_ylim(H, 0)
ov.axis('off')

for (x0, y0, x1, y1), col, title in zip(e_title_box, e_title_col, E_titles):
    ov.add_patch(Rectangle((x0, y0), x1 - x0, y1 - y0, fc=col, ec='black', lw=2))
    ov.text((x0 + x1) / 2, (y0 + y1) / 2 + 1, title, fontsize=10.5, fontweight='bold', ha='center', va='center')

d_cols = [(553, 389, 409, 745, [426, 523, 624, 720], D_relapse_col1, '1'),
          (711, 364, 390, 771, [419, 521, 625, 727], D_relapse_col2, '2'),
          (886, 398, 420, 656, [445, 537, 625], D_relapse_col3, '3')]
for x, by, ly0, ly1, ys, rels, lab in d_cols:
    dashed_arrow(ov, x, ly0, ly1, head_ms=7)
    numbox(ov, x, by, 22, 22, lab, 9)
    for y, rel in zip(ys, rels):
        ringed(ov, x, y, ORANGE if rel else TEAL, 190, 75, 58, 10)

for lab, x, y in [('A', 25, 60), ('B', 603, 60), ('C', 28, 386), ('D', 505, 385), ('E', 26, 850)]:
    ov.text(x, y, lab, fontsize=46, fontweight='bold', ha='center', va='baseline')

fig.savefig('out.png', dpi=100)
